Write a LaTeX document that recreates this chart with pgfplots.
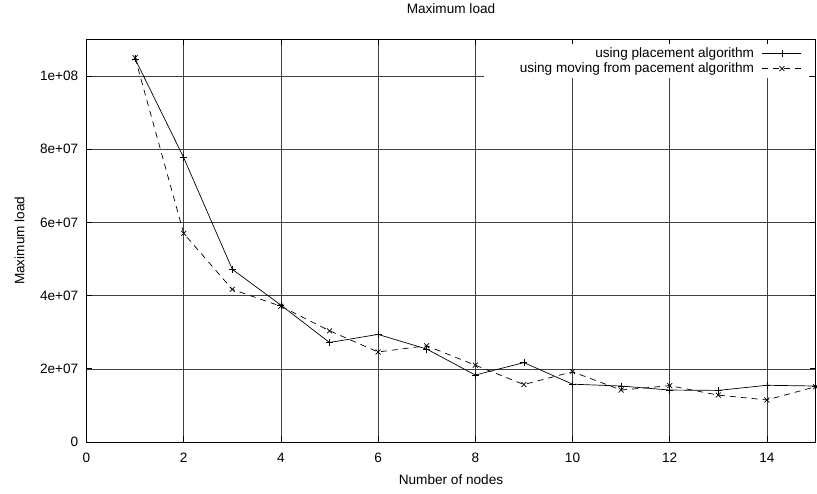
\documentclass[border=0pt]{standalone}
\usepackage{fontspec}
\setmainfont{Liberation Sans}
\usepackage{pgfplots}
\pgfplotsset{compat=1.18}

\begin{document}
\fontsize{13.6bp}{16bp}\selectfont
\begin{tikzpicture}
\begin{axis}[
  at={(0,0)}, anchor=south west,
  scale only axis, width=729bp, height=402.5bp,
  xmin=0, xmax=15, ymin=0, ymax=1.1e8,
  xtick={0,2,...,14},
  ytick={0,2e7,4e7,6e7,8e7,1e8},
  yticklabels={0,2e+07,4e+07,6e+07,8e+07,1e+08},
  scaled y ticks=false,
  /pgf/number format/assume math mode=true,
  tick align=inside, major tick length=6bp,
  tick style={black, line width=0.8bp},
  grid=major, grid style={black!75, line width=0.6bp},
  axis line style={black, line width=0.9bp},
  xticklabel style={anchor=center, yshift=-15.5bp, inner sep=0pt},
  yticklabel style={anchor=east, xshift=-8bp, inner sep=0pt},
  title={Maximum load},
  title style={at={(axis description cs:0.5,1.0609)}, anchor=center, inner sep=0pt},
  xlabel={Number of nodes},
  xlabel style={at={(axis description cs:0.5,-0.0944)}, anchor=center, inner sep=0pt},
  ylabel={Maximum load},
  ylabel style={at={(axis description cs:-0.0919,0.5)}, anchor=center, rotate=0, inner sep=0pt},
  legend plot pos=right,
  legend cell align=right,
  legend style={at={(axis description cs:0.9911,0.9888)}, anchor=north east,
    fill=white, draw=none, inner xsep=7bp, inner ysep=2bp,
    nodes={inner xsep=2bp, inner ysep=1.5bp}, row sep=0pt},
  legend image code/.code={
    \path (0bp,0bp);
    \draw[mark repeat=2, mark phase=2, #1]
      plot coordinates {(6bp,0bp) (25.5bp,0bp) (45bp,0bp)};
  },
]
\addplot[black, line width=0.7bp, mark=+, mark size=3.5bp]
  coordinates {
    (1,1.047e8) (2,7.77e7) (3,4.72e7) (4,3.74e7) (5,2.72e7)
    (6,2.94e7) (7,2.54e7) (8,1.83e7) (9,2.17e7) (10,1.58e7)
    (11,1.53e7) (12,1.42e7) (13,1.41e7) (14,1.55e7) (15,1.53e7)
  };
\addlegendentry{using placement algorithm}
\addplot[black, line width=0.7bp, dash pattern=on 6bp off 5bp,
  mark=x, mark size=3.5bp, mark options={solid}]
  coordinates {
    (1,1.05e8) (2,5.70e7) (3,4.17e7) (4,3.71e7) (5,3.04e7)
    (6,2.46e7) (7,2.63e7) (8,2.10e7) (9,1.57e7) (10,1.92e7)
    (11,1.42e7) (12,1.54e7) (13,1.28e7) (14,1.15e7) (15,1.51e7)
  };
\addlegendentry{\hspace*{27bp}using moving from pacement algorithm}
\end{axis}
\pgfresetboundingbox
\useasboundingbox (-86.5bp,-52bp) rectangle (730.5bp,442bp);
\end{tikzpicture}
\end{document}
